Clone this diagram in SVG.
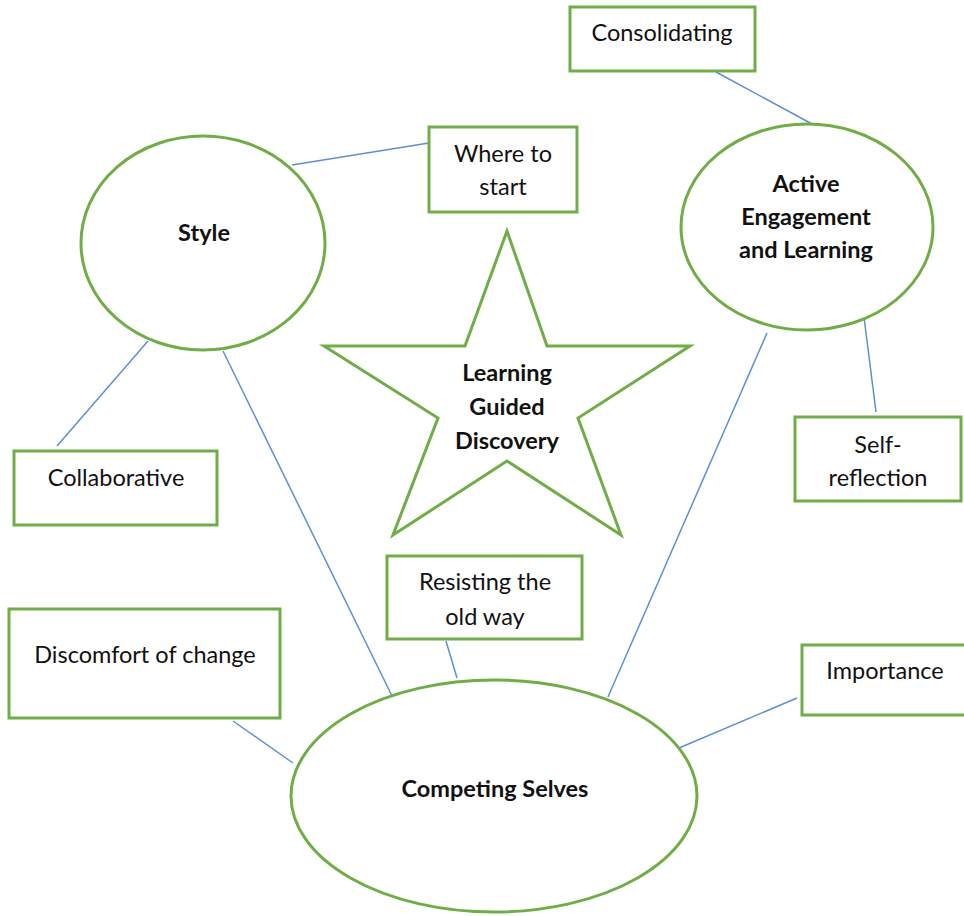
<svg xmlns="http://www.w3.org/2000/svg" width="964" height="916" viewBox="0 0 964 916">
<style>
.shape{fill:#fff;stroke:#70ad47;stroke-width:3}
.conn line{stroke:#5b8fd6;stroke-width:1.5}
text{font-family:Lato,"Open Sans","Liberation Sans",sans-serif;font-size:23.5px;fill:#111;text-anchor:middle}
.b{font-weight:bold;font-size:23.5px}
</style>
<rect width="964" height="916" fill="#fff"/>
<g class="conn" id="connectors">
<line x1="716" y1="72" x2="812" y2="124"/>
<line x1="292" y1="165" x2="429" y2="143"/>
<line x1="148" y1="341" x2="57" y2="446"/>
<line x1="223" y1="351" x2="393" y2="698"/>
<line x1="864" y1="317" x2="876" y2="412"/>
<line x1="767" y1="333" x2="608" y2="697"/>
<line x1="446" y1="641" x2="457" y2="678"/>
<line x1="233" y1="721" x2="293" y2="763"/>
<line x1="797" y1="698" x2="679" y2="748"/>
</g>
<g id="style">
<ellipse class="shape" cx="203" cy="243" rx="122" ry="107"/>
<text class="b" x="204" y="241">Style</text>
</g>
<g id="active">
<ellipse class="shape" cx="807" cy="227" rx="126" ry="103"/>
<text class="b" x="806" y="192">Active</text>
<text class="b" x="806" y="225">Engagement</text>
<text class="b" x="806" y="258">and Learning</text>
</g>
<g id="competing">
<ellipse class="shape" cx="494" cy="796" rx="203" ry="116"/>
<text class="b" x="495" y="797">Competing Selves</text>
</g>
<g id="star">
<polygon class="shape" points="507,231 547,346 690,346 578,418 621,535 507,461 393,535 438,418 324,346 465,346"/>
<text class="b" x="507" y="381">Learning</text>
<text class="b" x="507" y="415">Guided</text>
<text class="b" x="507" y="449">Discovery</text>
</g>
<g id="consolidating">
<rect class="shape" x="570" y="7" width="185" height="64"/>
<text x="662" y="41">Consolidating</text>
</g>
<g id="where">
<rect class="shape" x="429" y="127" width="148" height="85"/>
<text x="503" y="162">Where to</text>
<text x="503" y="195">start</text>
</g>
<g id="collaborative">
<rect class="shape" x="14" y="451" width="203" height="74"/>
<text x="116" y="486">Collaborative</text>
</g>
<g id="selfreflection">
<rect class="shape" x="795" y="417" width="166" height="84"/>
<text x="878" y="453">Self-</text>
<text x="878" y="486">reflection</text>
</g>
<g id="resisting">
<rect class="shape" x="387" y="556" width="195" height="83"/>
<text x="485" y="590">Resisting the</text>
<text x="485" y="625">old way</text>
</g>
<g id="discomfort">
<rect class="shape" x="9" y="609" width="271" height="109"/>
<text x="145" y="663">Discomfort of change</text>
</g>
<g id="importance">
<rect class="shape" x="802" y="645" width="164" height="70"/>
<text x="885" y="679">Importance</text>
</g>
</svg>
